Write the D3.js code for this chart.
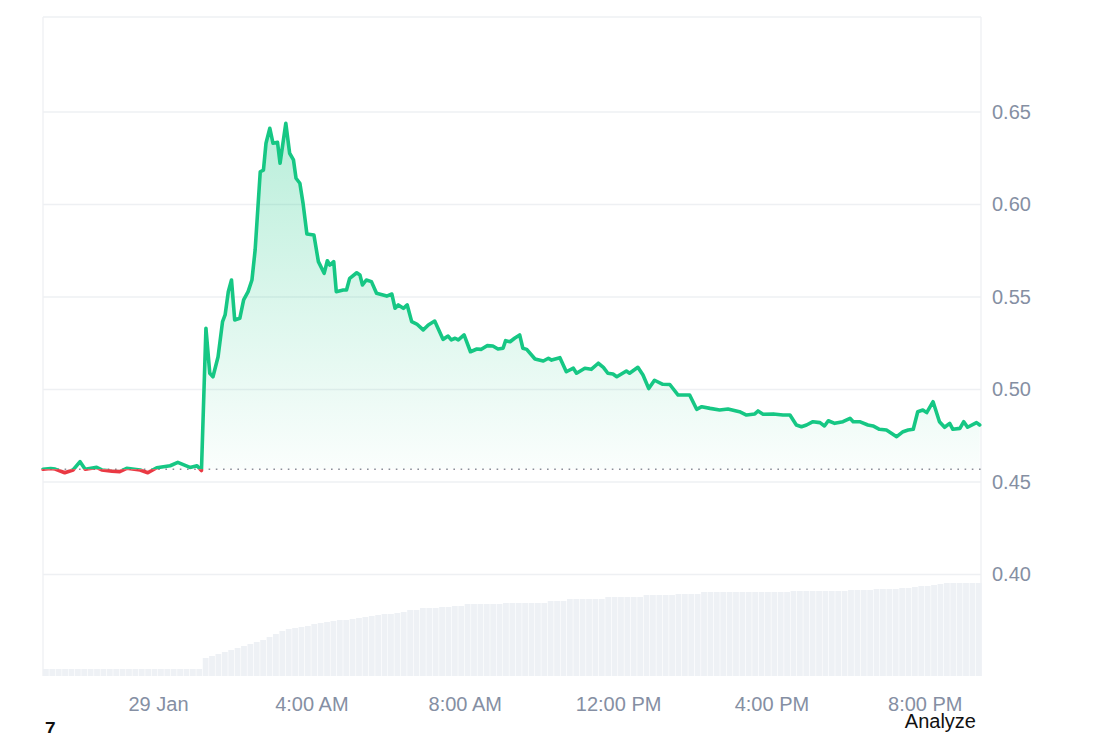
<!DOCTYPE html>
<html>
<head>
<meta charset="utf-8">
<script src="https://cdn.jsdelivr.net/npm/d3@7"></script>
<style>
  html, body { margin: 0; padding: 0; background: #ffffff; }
  svg { display: block; font-family: "Liberation Sans", Arial, sans-serif; }
</style>
</head>
<body>
<svg id="chart" width="1100" height="733"></svg>
<script>
// ---- DATA ----
// minutes after 28 Jan 21:00
const priceMinutes = [0,12,19,34,47,58,66,84,92,108,120,131,152,164,178,199,211,230,241,248,
  255,261,266,274,281,285,290,295,300,308,314,321,327,332,340,345,349,355,360,367,371,380,386,392,396,402,407,413,
  424,431,440,445,449,455,459,470,475,480,491,496,500,506,514,522,538,546,551,556,564,570,577,585,595,603,613,
  626,634,639,645,650,659,669,679,686,695,704,712,720,724,731,738,746,751,757,770,783,791,796,809,819,830,835,
  848,858,869,877,884,892,898,913,918,931,939,948,957,970,981,994,1012,1023,1031,1044,1059,1072,1090,1101,1114,
  1119,1127,1143,1158,1169,1179,1187,1195,1205,1216,1223,1229,1239,1252,1263,1268,1278,1291,1299,1309,1320,1336,
  1346,1354,1362,1369,1377,1383,1393,1403,1411,1419,1424,1435,1441,1447,1461,1466];
const prices = [0.4569,0.4573,0.4570,0.4550,0.4565,0.4610,0.4569,0.4579,0.4565,0.4559,0.4556,0.4574,0.4565,0.4550,
  0.4577,0.4588,0.4606,0.4579,0.4588,0.4562,
  0.5331,0.5088,0.5069,0.5177,0.5367,0.5403,0.5529,0.5592,0.5376,0.5385,0.5484,0.5529,0.5592,0.5754,0.6177,0.6186,
  0.6331,0.6412,0.6331,0.6336,0.6223,0.6439,0.6277,0.6241,0.6142,0.6115,0.6006,0.5841,
  0.5835,0.5691,0.5628,0.5696,0.5673,0.5691,0.5529,0.5538,0.5538,0.5601,0.5631,0.5619,0.5565,0.5592,0.5583,0.5520,
  0.5505,0.5516,0.5439,0.5457,0.5439,0.5457,0.5367,0.5354,0.5322,0.5349,0.5370,
  0.5271,0.5289,0.5268,0.5277,0.5268,0.5295,0.5204,0.5219,0.5217,0.5237,0.5235,0.5219,0.5223,0.5264,0.5258,0.5277,
  0.5295,0.5223,0.5217,0.5165,0.5154,0.5169,0.5159,0.5172,0.5096,0.5115,0.5088,
  0.5115,0.5109,0.5142,0.5120,0.5088,0.5084,0.5069,0.5100,0.5088,0.5120,0.5078,0.5005,0.5050,0.5028,0.5027,0.4970,
  0.4970,0.4893,0.4907,0.4898,0.4889,0.4895,0.4880,0.4862,0.4868,
  0.4884,0.4866,0.4868,0.4862,0.4862,0.4808,0.4799,0.4808,0.4826,0.4821,0.4803,0.4831,0.4817,0.4826,0.4844,0.4826,
  0.4826,0.4808,0.4803,0.4785,0.4781,0.4745,
  0.4772,0.4781,0.4785,0.4880,0.4889,0.4875,0.4934,0.4826,0.4796,0.4817,0.4785,0.4790,0.4826,0.4796,0.4821,0.4808];
// volume per 10-minute bar (thousands)
const volumes = [7,7,7,7,7,7,7,7,7,7,7,7,7,7,7,7,7,7,7,7,7,7,7,7,7,
  18,20,22,24,26,28,30,32,34,36,39,42,45,47,48,49,50,52,53,54,55,56,56,57,58,
  59,60,61,62,62,63,64,66,66,68,68,68,69,69,70,70,72,72,72,72,72,72,73,73,73,
  73,73,73,73,75,75,75,77,77,77,77,77,77,79,79,79,79,79,79,81,81,81,81,81,82,
  82,82,82,84,84,84,84,84,84,84,84,84,84,84,84,84,84,85,85,85,85,85,85,85,85,
  85,86,86,86,86,87,87,87,87,88,88,89,90,90,91,92,93,93,93,93,93,93];
const yTicks = [0.40, 0.45, 0.50, 0.55, 0.60, 0.65];
const xTickHours = [24, 28, 32, 36, 40, 44]; // hours after 28 Jan 00:00
const startTime = new Date(2025, 0, 28, 21, 0);
const endTime = new Date(2025, 0, 29, 21, 28);

// ---- LAYOUT ----
const svg = d3.select("#chart");
const L = 43, R = 981, T = 17, B = 676;
const FONT = "'Liberation Sans', Arial, sans-serif";

const x = d3.scaleTime().domain([startTime, endTime]).range([L, R]);
const y = d3.scaleLinear().domain([0.34514, 0.70135]).range([B, T]);
const yVol = d3.scaleLinear().domain([0, 100]).range([B, B - 100]);

const addMin = m => new Date(startTime.getTime() + m * 60000);
const data = priceMinutes.map((m, i) => ({ t: addMin(m), v: prices[i] }));
const base = prices[0];
const yBase = y(base);

const defs = svg.append("defs");
const gGrad = defs.append("linearGradient").attr("id", "gfill")
  .attr("gradientUnits", "userSpaceOnUse").attr("x1", 0).attr("x2", 0)
  .attr("y1", y(d3.max(prices))).attr("y2", yBase);
gGrad.append("stop").attr("offset", 0).attr("stop-color", "#16c784").attr("stop-opacity", 0.3);
gGrad.append("stop").attr("offset", 1).attr("stop-color", "#16c784").attr("stop-opacity", 0.02);
defs.append("clipPath").attr("id", "above").append("rect")
  .attr("x", L - 5).attr("y", T - 5).attr("width", R - L + 10).attr("height", yBase - T + 5);
defs.append("clipPath").attr("id", "below").append("rect")
  .attr("x", L - 5).attr("y", yBase).attr("width", R - L + 10).attr("height", B - yBase);

// grid
svg.append("g").selectAll("line").data(yTicks).join("line")
  .attr("x1", L).attr("x2", R).attr("y1", d => y(d)).attr("y2", d => y(d))
  .attr("stroke", "#eef0f3").attr("stroke-width", 1.3);
svg.append("line").attr("x1", L).attr("x2", R).attr("y1", T).attr("y2", T)
  .attr("stroke", "#eef0f3").attr("stroke-width", 1.3);
svg.append("line").attr("x1", L).attr("x2", L).attr("y1", T).attr("y2", B)
  .attr("stroke", "#eef0f3").attr("stroke-width", 1.3);
svg.append("line").attr("x1", R).attr("x2", R).attr("y1", T).attr("y2", B)
  .attr("stroke", "#eef0f3").attr("stroke-width", 1.3);

// volume bars
const step = x(addMin(10)) - x(addMin(0));
svg.append("g").selectAll("rect").data(volumes).join("rect")
  .attr("x", (d, i) => x(addMin(i * 10)))
  .attr("width", step - 0.6)
  .attr("y", d => yVol(d))
  .attr("height", d => B - yVol(d))
  .attr("fill", "#eef1f5");

// area
const area = d3.area().x(d => x(d.t)).y0(yBase).y1(d => y(d.v));
svg.append("path").datum(data).attr("d", area).attr("fill", "url(#gfill)").attr("clip-path", "url(#above)");
svg.append("path").datum(data).attr("d", area).attr("fill", "#ea3943").attr("fill-opacity", 0.06).attr("clip-path", "url(#below)");

// baseline dotted
svg.append("line").attr("x1", L).attr("x2", R).attr("y1", yBase).attr("y2", yBase)
  .attr("stroke", "#8a8f99").attr("stroke-width", 1.6).attr("stroke-dasharray", "1.6,5.6");

// line
const line = d3.line().x(d => x(d.t)).y(d => y(d.v));
const gLine = svg.append("g");
gLine.append("path").datum(data).attr("d", line).attr("fill", "none")
  .attr("stroke", "#16c784").attr("stroke-width", 3.6).attr("stroke-linejoin", "round").attr("stroke-linecap", "round")
  .attr("clip-path", "url(#above)");
gLine.append("path").datum(data).attr("d", line).attr("fill", "none")
  .attr("stroke", "#ea3943").attr("stroke-width", 3.6).attr("stroke-linejoin", "round").attr("stroke-linecap", "round")
  .attr("clip-path", "url(#below)");

// y axis
const yAxis = d3.axisRight(y).tickValues(yTicks).tickFormat(d3.format(".2f")).tickSize(0).tickPadding(11);
const gy = svg.append("g").attr("transform", `translate(${R},0)`).call(yAxis);
gy.select(".domain").remove();
gy.selectAll("text").attr("fill", "#858fa3").style("font-size", "20px").style("font-family", FONT);

// x axis
const xTickDates = xTickHours.map(h => new Date(2025, 0, 28, h, 0));
const fmt = d => (d.getHours() === 0 ? d3.timeFormat("%-d %b")(d) : d3.timeFormat("%-I:%M %p")(d));
const xAxis = d3.axisBottom(x).tickValues(xTickDates).tickFormat(fmt).tickSize(0).tickPadding(0);
const gx = svg.append("g").attr("transform", `translate(0,${B})`).call(xAxis);
gx.select(".domain").remove();
gx.selectAll("text").attr("fill", "#858fa3").attr("dy", null).attr("y", 35)
  .style("font-size", "20px").style("font-family", FONT);

// footer texts
svg.append("text").attr("x", 45).attr("y", 735).text("7")
  .attr("fill", "#111").style("font-size", "19px").style("font-weight", "bold").style("font-family", FONT);
svg.append("text").attr("x", 976).attr("y", 728).attr("text-anchor", "end").text("Analyze")
  .attr("fill", "#111").style("font-size", "20px").style("font-family", FONT);
</script>
</body>
</html>
